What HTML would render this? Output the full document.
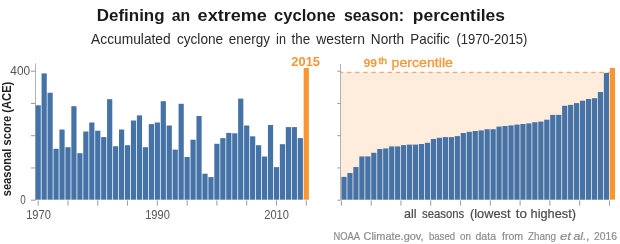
<!DOCTYPE html>
<html><head><meta charset="utf-8"><style>
html,body{margin:0;padding:0;background:#fff;width:620px;height:244px;overflow:hidden;}
svg{display:block;will-change:transform;}
</style></head><body>
<svg width="620" height="244" viewBox="0 0 620 244">
<line x1="35.50" y1="63.50" x2="35.50" y2="200.20" stroke="#b5b2b5" stroke-width="1"/>
<line x1="31.00" y1="200.20" x2="35.50" y2="200.20" stroke="#999" stroke-width="1"/>
<line x1="31.00" y1="167.95" x2="35.50" y2="167.95" stroke="#999" stroke-width="1"/>
<line x1="31.00" y1="135.70" x2="35.50" y2="135.70" stroke="#999" stroke-width="1"/>
<line x1="31.00" y1="103.45" x2="35.50" y2="103.45" stroke="#999" stroke-width="1"/>
<line x1="31.00" y1="71.20" x2="35.50" y2="71.20" stroke="#999" stroke-width="1"/>
<line x1="38.20" y1="200.50" x2="38.20" y2="205.60" stroke="#999" stroke-width="1"/>
<line x1="67.98" y1="200.50" x2="67.98" y2="205.60" stroke="#999" stroke-width="1"/>
<line x1="97.77" y1="200.50" x2="97.77" y2="205.60" stroke="#999" stroke-width="1"/>
<line x1="127.56" y1="200.50" x2="127.56" y2="205.60" stroke="#999" stroke-width="1"/>
<line x1="157.34" y1="200.50" x2="157.34" y2="205.60" stroke="#999" stroke-width="1"/>
<line x1="187.12" y1="200.50" x2="187.12" y2="205.60" stroke="#999" stroke-width="1"/>
<line x1="216.91" y1="200.50" x2="216.91" y2="205.60" stroke="#999" stroke-width="1"/>
<line x1="246.69" y1="200.50" x2="246.69" y2="205.60" stroke="#999" stroke-width="1"/>
<line x1="276.48" y1="200.50" x2="276.48" y2="205.60" stroke="#999" stroke-width="1"/>
<line x1="306.26" y1="200.50" x2="306.26" y2="205.60" stroke="#999" stroke-width="1"/>
<rect x="35.60" y="105.30" width="5.20" height="94.40" fill="#4673a7"/>
<rect x="41.56" y="73.40" width="5.20" height="126.30" fill="#4673a7"/>
<rect x="47.51" y="92.70" width="5.20" height="107.00" fill="#4673a7"/>
<rect x="53.47" y="148.80" width="5.20" height="50.90" fill="#4673a7"/>
<rect x="59.43" y="129.50" width="5.20" height="70.20" fill="#4673a7"/>
<rect x="65.39" y="147.20" width="5.20" height="52.50" fill="#4673a7"/>
<rect x="71.34" y="106.20" width="5.20" height="93.50" fill="#4673a7"/>
<rect x="77.30" y="153.20" width="5.20" height="46.50" fill="#4673a7"/>
<rect x="83.26" y="131.50" width="5.20" height="68.20" fill="#4673a7"/>
<rect x="89.21" y="122.50" width="5.20" height="77.20" fill="#4673a7"/>
<rect x="95.17" y="130.70" width="5.20" height="69.00" fill="#4673a7"/>
<rect x="101.13" y="137.10" width="5.20" height="62.60" fill="#4673a7"/>
<rect x="107.08" y="99.20" width="5.20" height="100.50" fill="#4673a7"/>
<rect x="113.04" y="146.20" width="5.20" height="53.50" fill="#4673a7"/>
<rect x="119.00" y="129.50" width="5.20" height="70.20" fill="#4673a7"/>
<rect x="124.96" y="145.20" width="5.20" height="54.50" fill="#4673a7"/>
<rect x="130.91" y="120.50" width="5.20" height="79.20" fill="#4673a7"/>
<rect x="136.87" y="115.40" width="5.20" height="84.30" fill="#4673a7"/>
<rect x="142.83" y="147.20" width="5.20" height="52.50" fill="#4673a7"/>
<rect x="148.78" y="124.10" width="5.20" height="75.60" fill="#4673a7"/>
<rect x="154.74" y="122.50" width="5.20" height="77.20" fill="#4673a7"/>
<rect x="160.70" y="101.20" width="5.20" height="98.50" fill="#4673a7"/>
<rect x="166.65" y="125.50" width="5.20" height="74.20" fill="#4673a7"/>
<rect x="172.61" y="149.60" width="5.20" height="50.10" fill="#4673a7"/>
<rect x="178.57" y="103.80" width="5.20" height="95.90" fill="#4673a7"/>
<rect x="184.52" y="157.00" width="5.20" height="42.70" fill="#4673a7"/>
<rect x="190.48" y="139.70" width="5.20" height="60.00" fill="#4673a7"/>
<rect x="196.44" y="116.00" width="5.20" height="83.70" fill="#4673a7"/>
<rect x="202.40" y="173.70" width="5.20" height="26.00" fill="#4673a7"/>
<rect x="208.35" y="177.10" width="5.20" height="22.60" fill="#4673a7"/>
<rect x="214.31" y="143.80" width="5.20" height="55.90" fill="#4673a7"/>
<rect x="220.27" y="138.10" width="5.20" height="61.60" fill="#4673a7"/>
<rect x="226.22" y="132.90" width="5.20" height="66.80" fill="#4673a7"/>
<rect x="232.18" y="133.30" width="5.20" height="66.40" fill="#4673a7"/>
<rect x="238.14" y="98.60" width="5.20" height="101.10" fill="#4673a7"/>
<rect x="244.09" y="125.50" width="5.20" height="74.20" fill="#4673a7"/>
<rect x="250.05" y="136.30" width="5.20" height="63.40" fill="#4673a7"/>
<rect x="256.01" y="145.20" width="5.20" height="54.50" fill="#4673a7"/>
<rect x="261.97" y="156.50" width="5.20" height="43.20" fill="#4673a7"/>
<rect x="267.92" y="125.00" width="5.20" height="74.70" fill="#4673a7"/>
<rect x="273.88" y="167.10" width="5.20" height="32.60" fill="#4673a7"/>
<rect x="279.84" y="144.20" width="5.20" height="55.50" fill="#4673a7"/>
<rect x="285.79" y="127.10" width="5.20" height="72.60" fill="#4673a7"/>
<rect x="291.75" y="127.10" width="5.20" height="72.60" fill="#4673a7"/>
<rect x="297.71" y="138.10" width="5.20" height="61.60" fill="#4673a7"/>
<rect x="303.67" y="68.00" width="5.20" height="131.70" fill="#f89634"/>
<rect x="341.00" y="72.00" width="268.60" height="128.00" fill="#feeddc"/>
<line x1="341" y1="72.4" x2="609.5" y2="72.4" stroke="#f6a860" stroke-width="1.4" stroke-dasharray="4.2 3.94" stroke-dashoffset="2.1"/>
<line x1="340.50" y1="64.00" x2="340.50" y2="200.20" stroke="#b5b2b5" stroke-width="1"/>
<line x1="337.30" y1="200.20" x2="340.50" y2="200.20" stroke="#999" stroke-width="1"/>
<line x1="337.30" y1="167.95" x2="340.50" y2="167.95" stroke="#999" stroke-width="1"/>
<line x1="337.30" y1="135.70" x2="340.50" y2="135.70" stroke="#999" stroke-width="1"/>
<line x1="337.30" y1="103.45" x2="340.50" y2="103.45" stroke="#999" stroke-width="1"/>
<line x1="337.30" y1="71.20" x2="340.50" y2="71.20" stroke="#999" stroke-width="1"/>
<line x1="341.40" y1="200.50" x2="341.40" y2="205.60" stroke="#999" stroke-width="1"/>
<line x1="371.19" y1="200.50" x2="371.19" y2="205.60" stroke="#999" stroke-width="1"/>
<line x1="400.97" y1="200.50" x2="400.97" y2="205.60" stroke="#999" stroke-width="1"/>
<line x1="430.75" y1="200.50" x2="430.75" y2="205.60" stroke="#999" stroke-width="1"/>
<line x1="460.54" y1="200.50" x2="460.54" y2="205.60" stroke="#999" stroke-width="1"/>
<line x1="490.32" y1="200.50" x2="490.32" y2="205.60" stroke="#999" stroke-width="1"/>
<line x1="520.11" y1="200.50" x2="520.11" y2="205.60" stroke="#999" stroke-width="1"/>
<line x1="549.89" y1="200.50" x2="549.89" y2="205.60" stroke="#999" stroke-width="1"/>
<line x1="579.68" y1="200.50" x2="579.68" y2="205.60" stroke="#999" stroke-width="1"/>
<line x1="609.46" y1="200.50" x2="609.46" y2="205.60" stroke="#999" stroke-width="1"/>
<rect x="341.40" y="176.90" width="5.20" height="22.80" fill="#4673a7"/>
<rect x="347.36" y="173.00" width="5.20" height="26.70" fill="#4673a7"/>
<rect x="353.33" y="167.00" width="5.20" height="32.70" fill="#4673a7"/>
<rect x="359.29" y="156.40" width="5.20" height="43.30" fill="#4673a7"/>
<rect x="365.26" y="156.40" width="5.20" height="43.30" fill="#4673a7"/>
<rect x="371.22" y="152.80" width="5.20" height="46.90" fill="#4673a7"/>
<rect x="377.19" y="149.00" width="5.20" height="50.70" fill="#4673a7"/>
<rect x="383.15" y="148.40" width="5.20" height="51.30" fill="#4673a7"/>
<rect x="389.12" y="146.40" width="5.20" height="53.30" fill="#4673a7"/>
<rect x="395.08" y="146.40" width="5.20" height="53.30" fill="#4673a7"/>
<rect x="401.05" y="145.10" width="5.20" height="54.60" fill="#4673a7"/>
<rect x="407.01" y="144.60" width="5.20" height="55.10" fill="#4673a7"/>
<rect x="412.98" y="144.60" width="5.20" height="55.10" fill="#4673a7"/>
<rect x="418.94" y="144.00" width="5.20" height="55.70" fill="#4673a7"/>
<rect x="424.91" y="142.80" width="5.20" height="56.90" fill="#4673a7"/>
<rect x="430.88" y="139.00" width="5.20" height="60.70" fill="#4673a7"/>
<rect x="436.84" y="137.80" width="5.20" height="61.90" fill="#4673a7"/>
<rect x="442.80" y="137.10" width="5.20" height="62.60" fill="#4673a7"/>
<rect x="448.77" y="137.10" width="5.20" height="62.60" fill="#4673a7"/>
<rect x="454.73" y="136.10" width="5.20" height="63.60" fill="#4673a7"/>
<rect x="460.70" y="133.00" width="5.20" height="66.70" fill="#4673a7"/>
<rect x="466.66" y="131.80" width="5.20" height="67.90" fill="#4673a7"/>
<rect x="472.63" y="131.00" width="5.20" height="68.70" fill="#4673a7"/>
<rect x="478.59" y="130.40" width="5.20" height="69.30" fill="#4673a7"/>
<rect x="484.56" y="129.20" width="5.20" height="70.50" fill="#4673a7"/>
<rect x="490.52" y="129.20" width="5.20" height="70.50" fill="#4673a7"/>
<rect x="496.49" y="126.60" width="5.20" height="73.10" fill="#4673a7"/>
<rect x="502.45" y="126.00" width="5.20" height="73.70" fill="#4673a7"/>
<rect x="508.42" y="125.40" width="5.20" height="74.30" fill="#4673a7"/>
<rect x="514.38" y="124.60" width="5.20" height="75.10" fill="#4673a7"/>
<rect x="520.35" y="124.00" width="5.20" height="75.70" fill="#4673a7"/>
<rect x="526.31" y="123.40" width="5.20" height="76.30" fill="#4673a7"/>
<rect x="532.28" y="122.20" width="5.20" height="77.50" fill="#4673a7"/>
<rect x="538.25" y="121.60" width="5.20" height="78.10" fill="#4673a7"/>
<rect x="544.21" y="119.70" width="5.20" height="80.00" fill="#4673a7"/>
<rect x="550.17" y="114.90" width="5.20" height="84.80" fill="#4673a7"/>
<rect x="556.14" y="114.90" width="5.20" height="84.80" fill="#4673a7"/>
<rect x="562.11" y="105.80" width="5.20" height="93.90" fill="#4673a7"/>
<rect x="568.07" y="104.90" width="5.20" height="94.80" fill="#4673a7"/>
<rect x="574.03" y="103.10" width="5.20" height="96.60" fill="#4673a7"/>
<rect x="580.00" y="100.70" width="5.20" height="99.00" fill="#4673a7"/>
<rect x="585.96" y="99.00" width="5.20" height="100.70" fill="#4673a7"/>
<rect x="591.93" y="98.20" width="5.20" height="101.50" fill="#4673a7"/>
<rect x="597.89" y="92.00" width="5.20" height="107.70" fill="#4673a7"/>
<rect x="603.86" y="73.00" width="5.20" height="126.70" fill="#4673a7"/>
<rect x="609.83" y="68.00" width="5.20" height="131.70" fill="#f89634"/>
<text x="96.80" y="20.6" font-family="Liberation Sans, sans-serif" font-size="17.4" font-weight="bold" font-style="normal" fill="#1a1a1a" textLength="67.79" lengthAdjust="spacingAndGlyphs" >Defining</text>
<text x="171.80" y="20.6" font-family="Liberation Sans, sans-serif" font-size="17.4" font-weight="bold" font-style="normal" fill="#1a1a1a" textLength="18.40" lengthAdjust="spacingAndGlyphs" >an</text>
<text x="197.60" y="20.6" font-family="Liberation Sans, sans-serif" font-size="17.4" font-weight="bold" font-style="normal" fill="#1a1a1a" textLength="69.30" lengthAdjust="spacingAndGlyphs" >extreme</text>
<text x="274.10" y="20.6" font-family="Liberation Sans, sans-serif" font-size="17.4" font-weight="bold" font-style="normal" fill="#1a1a1a" textLength="61.60" lengthAdjust="spacingAndGlyphs" >cyclone</text>
<text x="343.90" y="20.6" font-family="Liberation Sans, sans-serif" font-size="17.4" font-weight="bold" font-style="normal" fill="#1a1a1a" textLength="60.21" lengthAdjust="spacingAndGlyphs" >season:</text>
<text x="412.80" y="20.6" font-family="Liberation Sans, sans-serif" font-size="17.4" font-weight="bold" font-style="normal" fill="#1a1a1a" textLength="92.21" lengthAdjust="spacingAndGlyphs" >percentiles</text>
<text x="91.10" y="44.1" font-family="Liberation Sans, sans-serif" font-size="13.9" font-weight="normal" font-style="normal" fill="#2a2a2a" textLength="79.60" lengthAdjust="spacingAndGlyphs" >Accumulated</text>
<text x="176.90" y="44.1" font-family="Liberation Sans, sans-serif" font-size="13.9" font-weight="normal" font-style="normal" fill="#2a2a2a" textLength="46.30" lengthAdjust="spacingAndGlyphs" >cyclone</text>
<text x="228.80" y="44.1" font-family="Liberation Sans, sans-serif" font-size="13.9" font-weight="normal" font-style="normal" fill="#2a2a2a" textLength="41.20" lengthAdjust="spacingAndGlyphs" >energy</text>
<text x="276.10" y="44.1" font-family="Liberation Sans, sans-serif" font-size="13.9" font-weight="normal" font-style="normal" fill="#2a2a2a" textLength="9.80" lengthAdjust="spacingAndGlyphs" >in</text>
<text x="291.50" y="44.1" font-family="Liberation Sans, sans-serif" font-size="13.9" font-weight="normal" font-style="normal" fill="#2a2a2a" textLength="18.60" lengthAdjust="spacingAndGlyphs" >the</text>
<text x="316.33" y="44.1" font-family="Liberation Sans, sans-serif" font-size="13.9" font-weight="normal" font-style="normal" fill="#2a2a2a" textLength="48.58" lengthAdjust="spacingAndGlyphs" >western</text>
<text x="370.80" y="44.1" font-family="Liberation Sans, sans-serif" font-size="13.9" font-weight="normal" font-style="normal" fill="#2a2a2a" textLength="33.30" lengthAdjust="spacingAndGlyphs" >North</text>
<text x="410.20" y="44.1" font-family="Liberation Sans, sans-serif" font-size="13.9" font-weight="normal" font-style="normal" fill="#2a2a2a" textLength="39.60" lengthAdjust="spacingAndGlyphs" >Pacific</text>
<text x="456.50" y="44.1" font-family="Liberation Sans, sans-serif" font-size="13.9" font-weight="normal" font-style="normal" fill="#2a2a2a" textLength="70.90" lengthAdjust="spacingAndGlyphs" >(1970-2015)</text>
<text x="10.30" y="74.7" font-family="Liberation Sans, sans-serif" font-size="13.4" font-weight="normal" font-style="normal" fill="#555" textLength="19.81" lengthAdjust="spacingAndGlyphs" >400</text>
<text x="20.20" y="204.2" font-family="Liberation Sans, sans-serif" font-size="13" font-weight="normal" font-style="normal" fill="#555" textLength="5.50" lengthAdjust="spacingAndGlyphs" >0</text>
<text x="26.15" y="218.9" font-family="Liberation Sans, sans-serif" font-size="12.8" font-weight="normal" font-style="normal" fill="#555" textLength="24.70" lengthAdjust="spacingAndGlyphs" >1970</text>
<text x="145.15" y="218.9" font-family="Liberation Sans, sans-serif" font-size="12.8" font-weight="normal" font-style="normal" fill="#555" textLength="24.70" lengthAdjust="spacingAndGlyphs" >1990</text>
<text x="264.25" y="218.9" font-family="Liberation Sans, sans-serif" font-size="12.8" font-weight="normal" font-style="normal" fill="#555" textLength="24.70" lengthAdjust="spacingAndGlyphs" >2010</text>
<text x="291.30" y="66.2" font-family="Liberation Sans, sans-serif" font-size="12.3" font-weight="bold" font-style="normal" fill="#f89634" textLength="28.70" lengthAdjust="spacingAndGlyphs" >2015</text>
<text x="404.00" y="218.2" font-family="Liberation Sans, sans-serif" font-size="12.8" font-weight="normal" font-style="normal" fill="#4a4a4a" textLength="12.49" lengthAdjust="spacingAndGlyphs" stroke="#4a4a4a" stroke-width="0.2">all</text>
<text x="422.10" y="218.2" font-family="Liberation Sans, sans-serif" font-size="12.8" font-weight="normal" font-style="normal" fill="#4a4a4a" textLength="42.20" lengthAdjust="spacingAndGlyphs" stroke="#4a4a4a" stroke-width="0.2">seasons</text>
<text x="470.00" y="218.2" font-family="Liberation Sans, sans-serif" font-size="12.8" font-weight="normal" font-style="normal" fill="#4a4a4a" textLength="40.49" lengthAdjust="spacingAndGlyphs" stroke="#4a4a4a" stroke-width="0.2">(lowest</text>
<text x="515.80" y="218.2" font-family="Liberation Sans, sans-serif" font-size="12.8" font-weight="normal" font-style="normal" fill="#4a4a4a" textLength="11.20" lengthAdjust="spacingAndGlyphs" stroke="#4a4a4a" stroke-width="0.2">to</text>
<text x="530.60" y="218.2" font-family="Liberation Sans, sans-serif" font-size="12.8" font-weight="normal" font-style="normal" fill="#4a4a4a" textLength="45.40" lengthAdjust="spacingAndGlyphs" stroke="#4a4a4a" stroke-width="0.2">highest)</text>
<text x="333.50" y="240.4" font-family="Liberation Sans, sans-serif" font-size="10.6" font-weight="normal" font-style="normal" fill="#8c8c8c" textLength="26.50" lengthAdjust="spacingAndGlyphs" stroke="#8c8c8c" stroke-width="0.2">NOAA</text>
<text x="363.50" y="240.4" font-family="Liberation Sans, sans-serif" font-size="10.6" font-weight="normal" font-style="normal" fill="#8c8c8c" textLength="60.00" lengthAdjust="spacingAndGlyphs" stroke="#8c8c8c" stroke-width="0.2">Climate.gov,</text>
<text x="429.00" y="240.4" font-family="Liberation Sans, sans-serif" font-size="10.6" font-weight="normal" font-style="normal" fill="#8c8c8c" textLength="26.00" lengthAdjust="spacingAndGlyphs" stroke="#8c8c8c" stroke-width="0.2">based</text>
<text x="460.00" y="240.4" font-family="Liberation Sans, sans-serif" font-size="10.6" font-weight="normal" font-style="normal" fill="#8c8c8c" textLength="11.00" lengthAdjust="spacingAndGlyphs" stroke="#8c8c8c" stroke-width="0.2">on</text>
<text x="475.50" y="240.4" font-family="Liberation Sans, sans-serif" font-size="10.6" font-weight="normal" font-style="normal" fill="#8c8c8c" textLength="20.49" lengthAdjust="spacingAndGlyphs" stroke="#8c8c8c" stroke-width="0.2">data</text>
<text x="502.00" y="240.4" font-family="Liberation Sans, sans-serif" font-size="10.6" font-weight="normal" font-style="normal" fill="#8c8c8c" textLength="21.00" lengthAdjust="spacingAndGlyphs" stroke="#8c8c8c" stroke-width="0.2">from</text>
<text x="528.00" y="240.4" font-family="Liberation Sans, sans-serif" font-size="10.6" font-weight="normal" font-style="normal" fill="#8c8c8c" textLength="28.00" lengthAdjust="spacingAndGlyphs" stroke="#8c8c8c" stroke-width="0.2">Zhang</text>
<text x="594.00" y="240.4" font-family="Liberation Sans, sans-serif" font-size="10.6" font-weight="normal" font-style="normal" fill="#8c8c8c" textLength="23.00" lengthAdjust="spacingAndGlyphs" stroke="#8c8c8c" stroke-width="0.2">2016</text>
<text x="560.00" y="240.4" font-family="Liberation Sans, sans-serif" font-size="10.6" font-weight="normal" font-style="italic" fill="#8c8c8c" textLength="11.04" lengthAdjust="spacingAndGlyphs" stroke="#8c8c8c" stroke-width="0.2">et</text>
<text x="573.50" y="240.4" font-family="Liberation Sans, sans-serif" font-size="10.6" font-weight="normal" font-style="italic" fill="#8c8c8c" textLength="16.50" lengthAdjust="spacingAndGlyphs" stroke="#8c8c8c" stroke-width="0.2">al.,</text>
<text x="363.50" y="66.9" font-family="Liberation Sans, sans-serif" font-size="11.7" font-weight="bold" font-style="normal" fill="#f89634" textLength="13.60" lengthAdjust="spacingAndGlyphs" >99</text>
<text x="378.40" y="63.7" font-family="Liberation Sans, sans-serif" font-size="9.4" font-weight="normal" font-style="normal" fill="#f89634" textLength="8.60" lengthAdjust="spacingAndGlyphs" stroke="#f89634" stroke-width="0.35">th</text>
<text x="391.50" y="66.9" font-family="Liberation Sans, sans-serif" font-size="13.2" font-weight="normal" font-style="normal" fill="#f89634" textLength="61.50" lengthAdjust="spacingAndGlyphs" stroke="#f89634" stroke-width="0.3">percentile</text>
<text transform="translate(11.1,196.3) rotate(-90)" x="0" y="0" font-family="Liberation Sans, sans-serif" font-size="12.3" font-weight="bold" fill="#222" textLength="114.6" lengthAdjust="spacingAndGlyphs">seasonal score (ACE)</text>
</svg>
</body></html>
